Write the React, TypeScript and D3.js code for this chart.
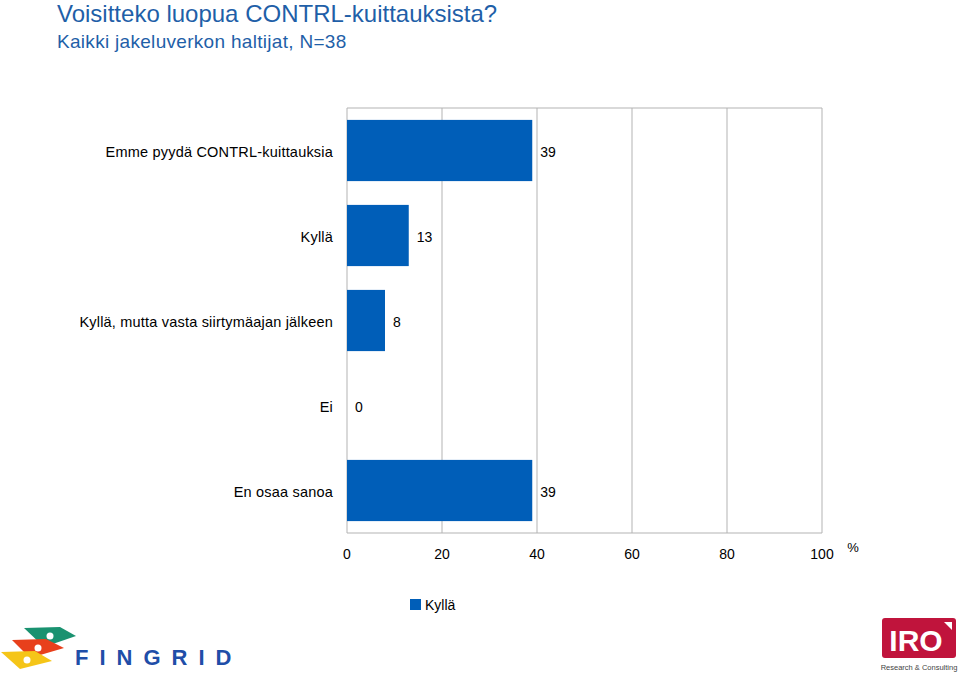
import React from "react";
import * as d3 from "d3";

const categories = [
  "Emme pyydä CONTRL-kuittauksia",
  "Kyllä",
  "Kyllä, mutta vasta siirtymäajan jälkeen",
  "Ei",
  "En osaa sanoa",
];
const values = [39, 13, 8, 0, 39];
const xTicks = [0, 20, 40, 60, 80, 100];
const seriesName = "Kyllä";

const W = 960;
const H = 677;
const FONT = "'Liberation Sans', Arial, Helvetica, sans-serif";
const BLUE = "#005EB8";

export default function App() {
  const left = 347;
  const right = 822;
  const top = 108;
  const bottom = 533;
  const x = d3.scaleLinear().domain([0, 100]).range([left, right]);
  const y = d3
    .scaleBand<string>()
    .domain(categories)
    .range([top, bottom])
    .paddingInner(0.28)
    .paddingOuter(0.14);

  return (
    <svg
      width={W}
      height={H}
      style={{ position: "absolute", left: 0, top: 0, background: "#fff" }}
      fontFamily={FONT}
    >
      <rect width={W} height={H} fill="#fff" />
      <text x={57} y={22} fontSize={24} fill="#1F5FA8">
        Voisitteko luopua CONTRL-kuittauksista?
      </text>
      <text x={57} y={48} fontSize={19} fill="#1F5FA8" letterSpacing={0.3}>
        Kaikki jakeluverkon haltijat, N=38
      </text>

      {/* gridlines */}
      {xTicks.map((t) => (
        <line
          key={t}
          x1={x(t)}
          x2={x(t)}
          y1={top}
          y2={bottom}
          stroke="#b3b3b3"
          strokeWidth={1}
        />
      ))}
      <line x1={left} x2={right} y1={top} y2={top} stroke="#b3b3b3" />
      <line x1={left} x2={right} y1={bottom} y2={bottom} stroke="#b3b3b3" />

      {/* bars */}
      {categories.map((c, i) => (
        <g key={c}>
          {values[i] > 0 && (
            <rect
              x={x(0)}
              y={y(c)!}
              width={x(values[i]) - x(0)}
              height={y.bandwidth()}
              fill={BLUE}
            />
          )}
          <text
            x={x(values[i]) + 8}
            y={y(c)! + y.bandwidth() / 2 + 6}
            fontSize={14}
            fill="#000"
          >
            {values[i]}
          </text>
          <text
            x={333}
            y={y(c)! + y.bandwidth() / 2 + 6}
            fontSize={14.5}
            textAnchor="end"
            fill="#000"
            letterSpacing={0.2}
          >
            {c}
          </text>
        </g>
      ))}

      {/* x tick labels */}
      {xTicks.map((t) => (
        <text
          key={t}
          x={x(t)}
          y={559}
          fontSize={14}
          textAnchor="middle"
          fill="#000"
        >
          {t}
        </text>
      ))}
      <text x={853} y={552} fontSize={13} textAnchor="middle" fill="#000">
        %
      </text>

      {/* legend */}
      <rect x={410} y={599} width={11} height={11} fill={BLUE} />
      <text x={425} y={610} fontSize={14} fill="#000">
        {seriesName}
      </text>

      {/* Fingrid logo */}
      <g>
        <path d="M24,628 L60,627 L76,636 L44,647 Z" fill="#1A9270" />
        <circle cx={50} cy={636} r={3.5} fill="#fff" />
        <path d="M12,640 L46,639 L64,648 L30,658 Z" fill="#E8401C" />
        <circle cx={38} cy={648} r={3.5} fill="#fff" />
        <path d="M1,652 L35,651 L52,661 L20,669 Z" fill="#F5C518" />
        <circle cx={27} cy={660} r={3.5} fill="#fff" />
        <text
          x={75}
          y={665}
          fontSize={22}
          fontWeight="bold"
          fill="#1F4EA8"
          letterSpacing={11}
        >
          FINGRID
        </text>
      </g>

      {/* IRO logo */}
      <g>
        <rect x={882} y={618} width={74} height={40} rx={3} fill="#C0143C" />
        <text
          x={916}
          y={651}
          fontSize={30}
          fontWeight="bold"
          fill="#fff"
          textAnchor="middle"
        >
          IRO
        </text>
        <path d="M944,622 L952,622 L952,630 Z" fill="#fff" />
        <text x={919} y={670} fontSize={7.5} fill="#444" textAnchor="middle">
          Research &amp; Consulting
        </text>
      </g>
    </svg>
  );
}
